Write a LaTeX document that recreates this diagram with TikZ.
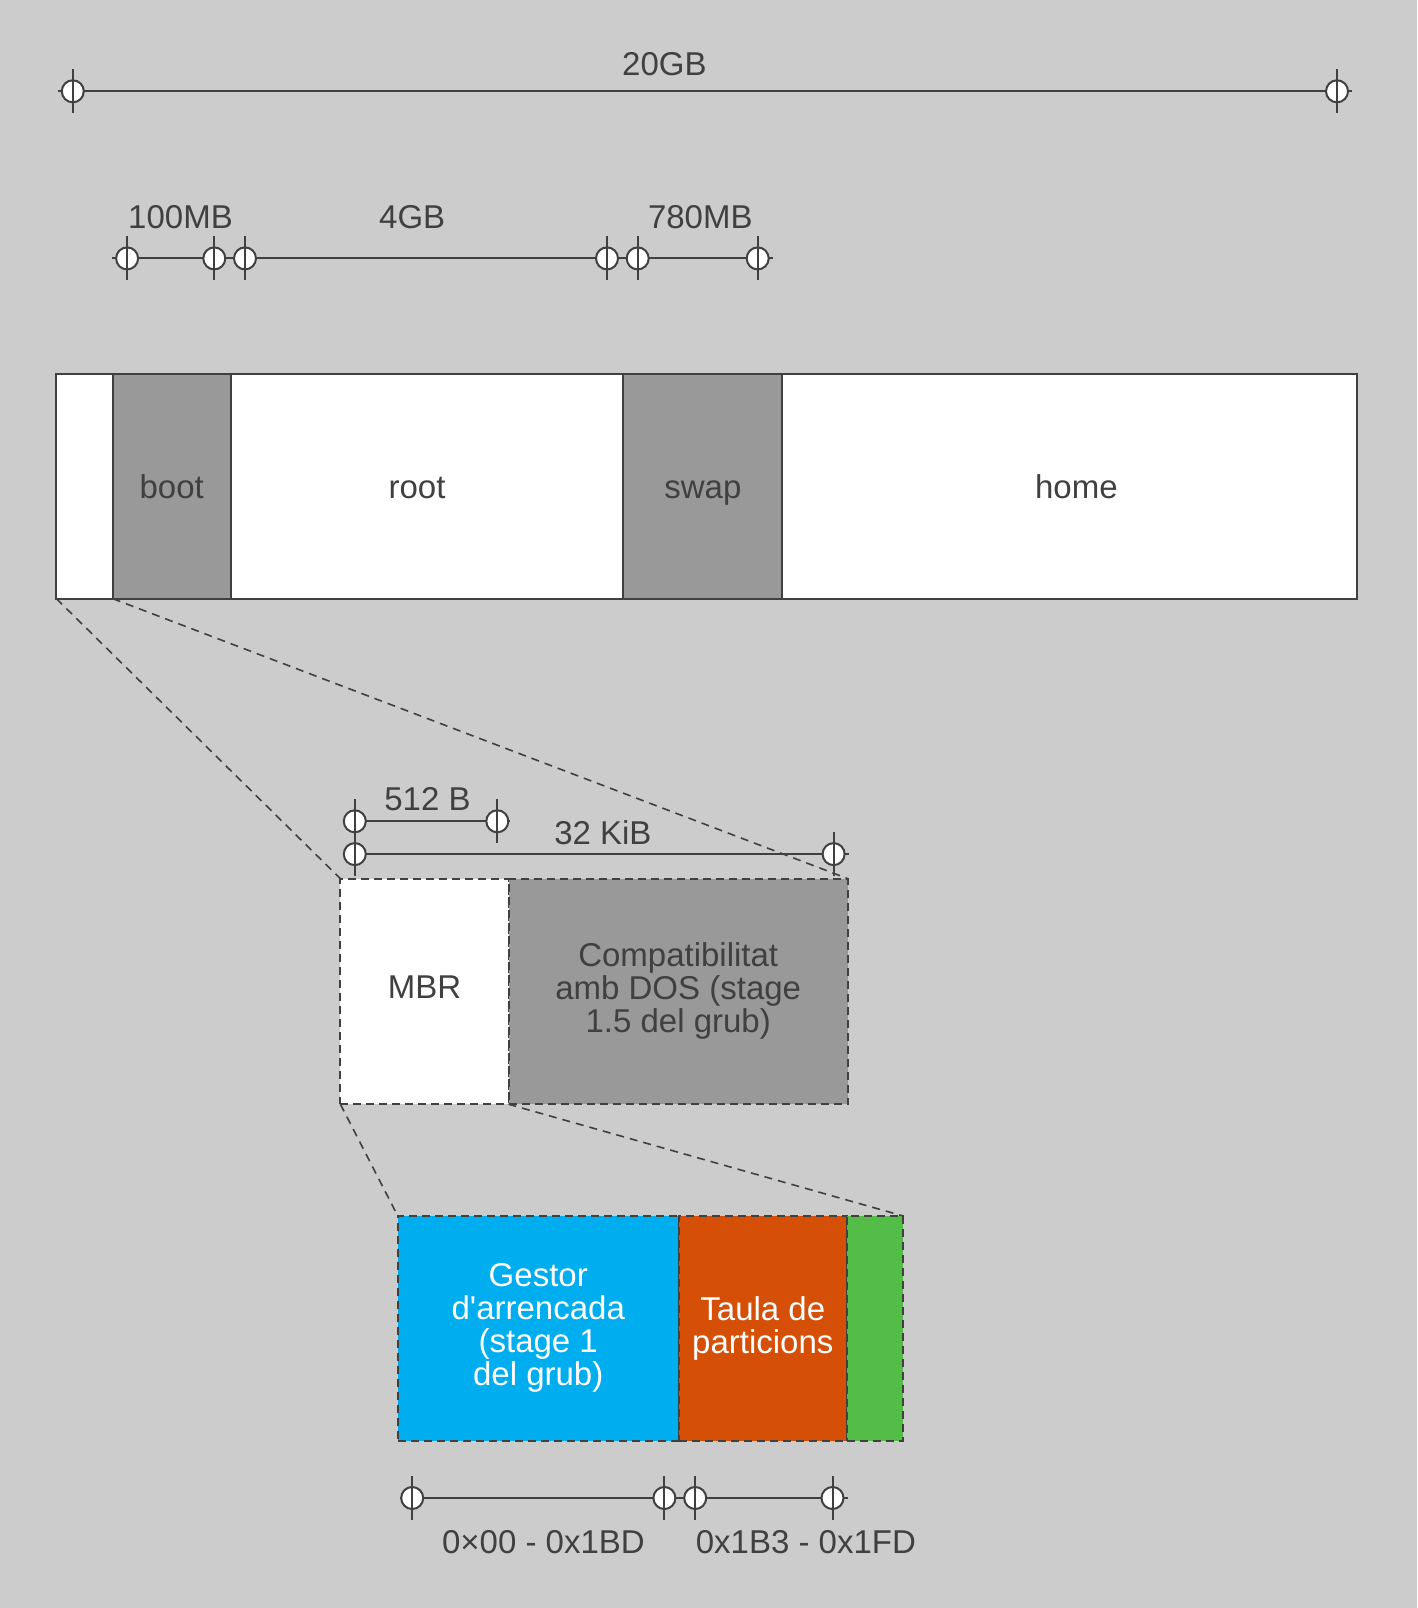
\documentclass[tikz,border=0pt]{standalone}
\usepackage{fontspec}
\setmainfont{Liberation Sans}
\usetikzlibrary{positioning}
\usetikzlibrary{backgrounds}
\definecolor{bgc}{HTML}{CCCCCC}
\definecolor{linec}{HTML}{404040}
\definecolor{partgray}{HTML}{999999}
\definecolor{grubblue}{HTML}{00ADEF}
\definecolor{tablered}{HTML}{D54F07}
\definecolor{siggreen}{HTML}{54BD47}
\tikzset{
node distance = 0pt,
 every node/.style = {font=\fontsize{33}{33}\selectfont, text=linec},
   part/.style = {%
    shape=rectangle,
    draw=linec,
    line width=2pt,
    fill=white,
    minimum height=224.5pt,
    inner sep=0pt, outer sep=0pt,
    align=center},
 zoompart/.style = {%
    part,
    dash pattern=on 8pt off 5pt},
 partlabel/.style = {text height=23.6pt, text depth=0pt, inner sep=0pt},
   tick/.style = {%
    circle,
    draw=linec,
    fill=white,
    line width=2pt,
    minimum size=22pt,
    inner sep=0pt},
    dim/.style = {draw=linec, line width=2pt},
 zoomline/.style = {draw=linec, line width=1.6pt, dash pattern=on 8pt off 6pt},
    }

\begin{document}
\begin{tikzpicture}[x=1pt, y=-1pt]
    \useasboundingbox (0,0) rectangle (1417,1608);
    \begin{scope}[on background layer]
        \fill[bgc] (0,0) rectangle (1417,1608);
    \end{scope}

    % disk partitions
    \node[part, minimum width=56.4pt, anchor=north west] (gap) at (56.4,374.2) {};
    \node[part, fill=partgray, minimum width=117.9pt, right=of gap,
        label={[partlabel]center:boot}] (boot) {};
    \node[part, minimum width=392.7pt, right=of boot,
        label={[partlabel, xshift=-10pt]center:root}] (root) {};
    \node[part, fill=partgray, minimum width=158.9pt, right=of root,
        label={[partlabel]center:swap}] (swap) {};
    \node[part, minimum width=574.2pt, right=of swap,
        label={[partlabel, xshift=7pt]center:home}] (home) {};

    % first sectors
    \node[zoompart, minimum width=168.1pt, minimum height=225.5pt, anchor=north west,
        label={[partlabel, yshift=5pt]center:MBR}] (mbr) at (340.4,878.7) {};
    \node[zoompart, fill=partgray, minimum width=339.4pt, minimum height=225.5pt, right=of mbr] (compat)
        {Compatibilitat\\amb DOS (stage\\1.5 del grub)};

    % MBR
    \node[zoompart, fill=grubblue, text=white, minimum width=280.9pt, anchor=north west] (gestor) at (397.8,1216)
        {Gestor\\d\textquotesingle arrencada\\(stage 1\\del grub)};
    \node[zoompart, fill=tablered, text=white, minimum width=168.2pt, right=of gestor] (taula) {Taula de\\particions};
    \node[zoompart, fill=siggreen, minimum width=56.4pt, right=of taula] (firma) {};

    % size markers
    \node[tick] (t20a) at (72.8,91.3) {};
    \node[tick] (t20b) at (1337,91.3) {};
    \node[tick] (t100a) at (127.1,258.4) {};
    \node[tick] (t100b) at (214.3,258.4) {};
    \node[tick] (t4a) at (245.0,258.4) {};
    \node[tick] (t4b) at (607.0,258.4) {};
    \node[tick] (t780a) at (637.7,258.4) {};
    \node[tick] (t780b) at (757.7,258.4) {};
    \node[tick] (t512a) at (354.8,821.3) {};
    \node[tick] (t512b) at (497.3,821.3) {};
    \node[tick] (t32a) at (354.8,854.1) {};
    \node[tick] (t32b) at (833.6,854.1) {};
    \node[tick] (tga) at (412.2,1498) {};
    \node[tick] (tgb) at (664.4,1498) {};
    \node[tick] (tta) at (695.2,1498) {};
    \node[tick] (ttb) at (832.5,1498) {};
    \foreach \t in {t20a,t20b,t100a,t100b,t4a,t4b,t780a,t780b,t512a,t512b,t32a,t32b,tga,tgb,tta,ttb}
        \draw[dim] (\t.center) ++(0,-22) -- ++(0,44);

    \begin{scope}[on background layer]
        \draw[dim] ([xshift=-15pt]t20a.center) -- ([xshift=15pt]t20b.center);
        \draw[dim] ([xshift=-15pt]t100a.center) -- ([xshift=15pt]t780b.center);
        \draw[dim] ([xshift=-12pt]t512a.center) -- ([xshift=13pt]t512b.center);
        \draw[dim] ([xshift=-12pt]t32a.center) -- ([xshift=15pt]t32b.center);
        \draw[dim] ([xshift=-12pt]tga.center) -- ([xshift=15pt]ttb.center);
    \end{scope}

    % size labels
    \node[anchor=base] (l20) at (664.4,75.4) {20GB};
    \node[anchor=base] (l100) at (180.5,228.1) {100MB};
    \node[anchor=base] (l4) at (412.2,228.1) {4GB};
    \node[anchor=base] (l780) at (700.3,228.1) {780MB};
    \node[anchor=base] (l512) at (427.5,810.5) {512 B};
    \node[anchor=base] (l32) at (602.9,844.3) {32 KiB};
    \node[anchor=base] (lg) at (543.4,1553.8) {0×00 - 0x1BD};
    \node[anchor=base] (lt) at (805.9,1553.8) {0x1B3 - 0x1FD};

    % zoom lines
    \draw[zoomline] (gap.south west) -- (mbr.north west);
    \draw[zoomline] (gap.south east) -- (compat.north east);
    \draw[zoomline] (mbr.south west) -- (gestor.north west);
    \draw[zoomline] (mbr.south east) -- (firma.north east);
\end{tikzpicture}
\end{document}
